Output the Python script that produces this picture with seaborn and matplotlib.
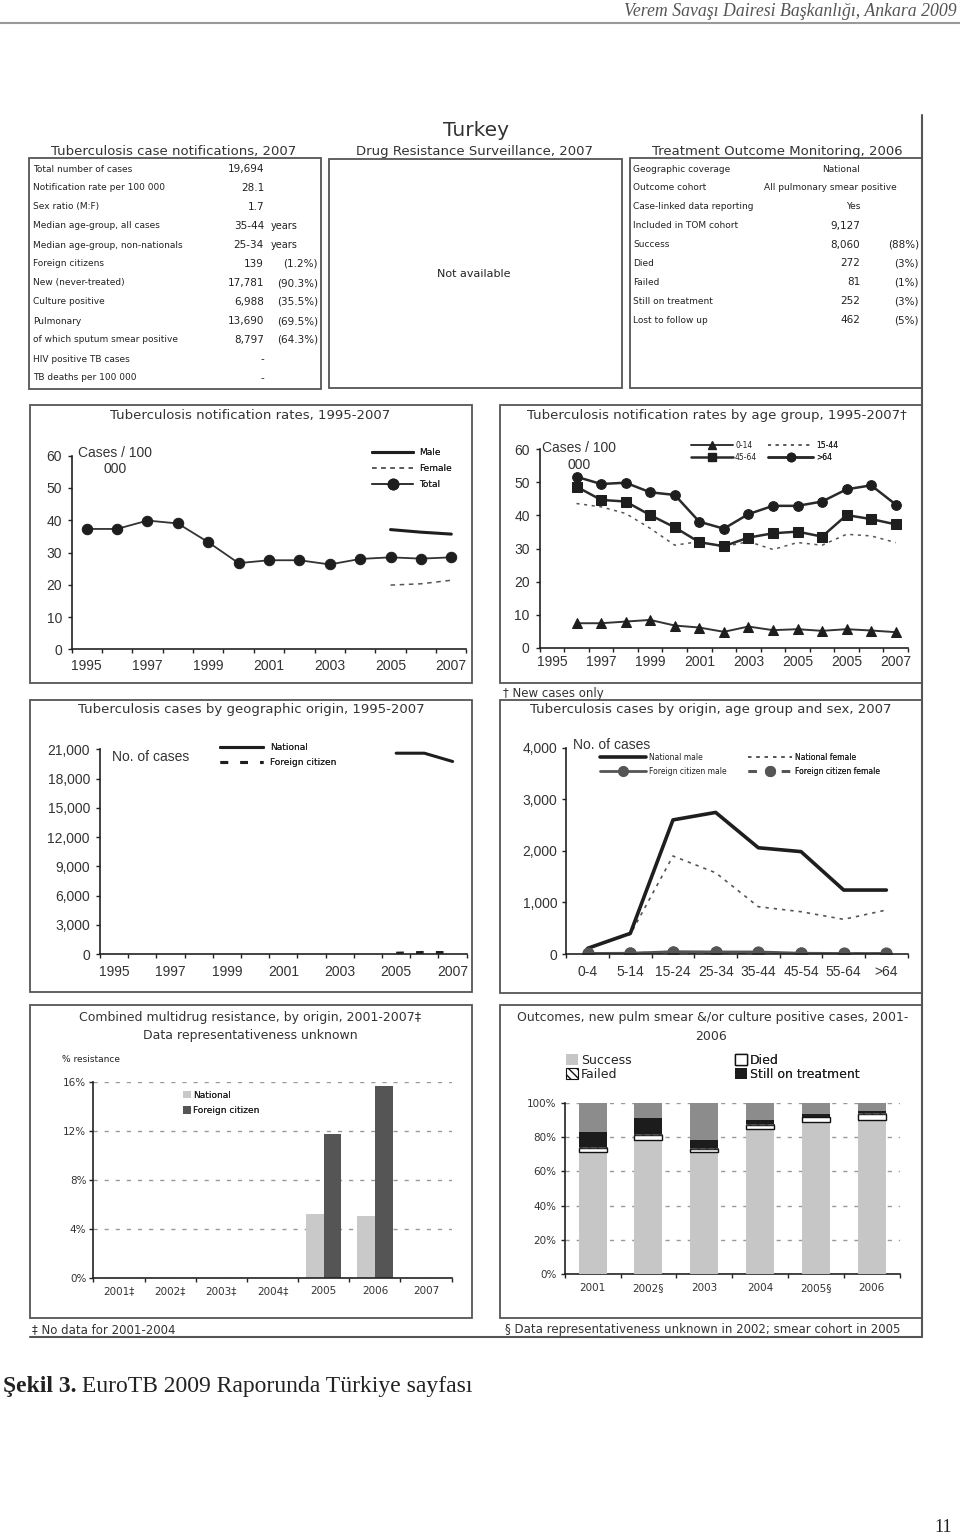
import numpy as np
import pandas as pd
import matplotlib
matplotlib.use("Agg")
import matplotlib.pyplot as plt
import seaborn as sns
from matplotlib.patches import Rectangle, Patch
from matplotlib.lines import Line2D
from matplotlib.ticker import FixedLocator, FixedFormatter, NullFormatter, NullLocator

sns.set_style("ticks")
plt.rcParams['font.family'] = ['DejaVu Sans']
plt.rcParams['hatch.linewidth'] = 1.0

# ---------------------------------------------------------------- data
notif_labels = ["Total number of cases", "Notification rate per 100 000", "Sex ratio (M:F)",
                "Median age-group, all cases", "Median age-group, non-nationals", "Foreign citizens",
                "New (never-treated)", "Culture positive", "Pulmonary", "of which sputum smear positive",
                "HIV positive TB cases", "TB deaths per 100 000"]
notif_values = ["19,694", "28.1", "1.7", "35-44", "25-34", "139", "17,781", "6,988", "13,690",
                "8,797", "-", "-"]
notif_extra = ["", "", "", "years", "years", "(1.2%)", "(90.3%)", "(35.5%)", "(69.5%)",
               "(64.3%)", "", ""]

tom_labels = ["Geographic coverage", "Outcome cohort", "Case-linked data reporting",
              "Included in TOM cohort", "Success", "Died", "Failed", "Still on treatment",
              "Lost to follow up"]
tom_values = ["National", "All pulmonary smear positive", "Yes", "9,127", "8,060", "272", "81",
              "252", "462"]
tom_pct = ["", "", "", "", "(88%)", "(3%)", "(1%)", "(3%)", "(5%)"]

rate_years = ["1995", "1996", "1997", "1998", "1999", "2000", "2001", "2002", "2003", "2004",
              "2005", "2006", "2007"]
rate_total = [37.3, 37.3, 39.9, 39.0, 33.2, 26.7, 27.6, 27.6, 26.3, 28.0, 28.5, 28.1, 28.5]
sex_years = ["2005", "2006", "2007"]
rate_male = [37.1, 36.3, 35.7]
rate_female = [19.9, 20.3, 21.4]
rate_ticklabels = ["1995", "1997", "1999", "2001", "2003", "2005", "2007"]

age_slot_labels = ["1995", "", "1997", "", "1999", "", "2001", "", "2003", "", "2005", "",
                   "2005", "", "2007"]
age_0_14 = [7.4, 7.4, 7.9, 8.4, 6.7, 6.1, 4.8, 6.4, 5.3, 5.6, 5.1, 5.6, 5.2, 4.7]
age_15_44 = [43.6, 42.6, 40.6, 36.1, 31.0, 32.1, 30.5, 32.1, 29.7, 31.8, 31.0, 34.3, 33.8, 31.8]
age_45_64 = [48.7, 44.7, 44.2, 40.1, 36.4, 31.9, 30.7, 33.3, 34.6, 35.1, 33.6, 40.1, 38.9, 37.3]
age_64p = [51.7, 49.5, 49.9, 47.0, 46.2, 38.1, 36.0, 40.4, 42.9, 42.9, 44.2, 47.9, 49.1, 43.3]

geo_years = rate_years
geo_data_years = ["2005", "2006", "2007"]
geo_national = [20600, 20600, 19750]
geo_foreign = [80, 160, 139]
geo_yticks = [0, 3000, 6000, 9000, 12000, 15000, 18000, 21000]

age_groups = ["0-4", "5-14", "15-24", "25-34", "35-44", "45-54", "55-64", ">64"]
nat_male = [110, 400, 2600, 2745, 2060, 1985, 1240, 1240]
nat_female = [110, 380, 1900, 1575, 917, 820, 672, 853]
for_male = [10, 15, 45, 40, 40, 15, 10, 10]
for_female = [8, 10, 30, 30, 20, 10, 5, 5]
agesex_yticks = [0, 1000, 2000, 3000, 4000]

mdr_years = ["2001‡", "2002‡", "2003‡", "2004‡", "2005", "2006", "2007"]
mdr_data_years = ["2005", "2006"]
mdr_national = [5.2, 5.05]
mdr_foreign = [11.8, 15.7]
mdr_yticks = [0, 4, 8, 12, 16]

out_years = ["2001", "2002§", "2003", "2004", "2005§", "2006"]
out_success = [71.5, 78.3, 71.5, 84.7, 88.9, 90.0]
out_died = [2.0, 2.8, 1.5, 2.3, 2.5, 3.4]
out_failed = [0.8, 0.5, 0.5, 0.5, 0.3, 0.5]
out_still = [8.4, 9.3, 5.0, 2.5, 1.5, 1.2]
out_yticks = [0, 20, 40, 60, 80, 100]

# ---------------------------------------------------------------- page helpers
W, H = 960, 1537
PX = 72 / 100.0
SANS = 'DejaVu Sans'
ARIAL = 'Liberation Sans'
SERIF = 'Liberation Serif'
INK = '#222222'
TXT = '#333333'
FRAME = '#555555'

fig = plt.figure(figsize=(W / 100, H / 100), dpi=100, facecolor='white')
bg = fig.add_axes([0, 0, 1, 1])
bg.set_xlim(0, W)
bg.set_ylim(H, 0)
bg.axis('off')


def T(x, y, s, **kw):
    kw.setdefault('va', 'center')
    kw.setdefault('ha', 'left')
    kw.setdefault('color', TXT)
    kw.setdefault('family', SANS)
    return bg.text(x, y, s, **kw)


def box(x0, y0, x1, y1, lw=1.3, color=FRAME):
    bg.add_patch(Rectangle((x0, y0), x1 - x0, y1 - y0, fill=False, ec=color, lw=lw))


def add_ax(x0, x1, ytop, ybot):
    ax = fig.add_axes([x0 / W, 1 - ybot / H, (x1 - x0) / W, (ybot - ytop) / H])
    ax.set_facecolor('none')
    return ax


def style_axes(ax, n, label_pos, labels, yticks, ylabels, fs, family, xpad_px, ypad_px,
               tick_len=4, yfs=None):
    ax.set_xlim(-0.5, n - 0.5)
    ax.xaxis.set_major_locator(FixedLocator(np.arange(n + 1) - 0.5))
    ax.xaxis.set_major_formatter(NullFormatter())
    ax.xaxis.set_minor_locator(FixedLocator(label_pos))
    ax.xaxis.set_minor_formatter(FixedFormatter(labels))
    ax.tick_params(axis='x', which='major', length=tick_len * PX, width=1, color=INK,
                   direction='out')
    ax.tick_params(axis='x', which='minor', length=0, pad=xpad_px * PX, labelsize=fs,
                   labelcolor=TXT, labelfontfamily=family)
    ax.yaxis.set_major_locator(FixedLocator(yticks))
    ax.yaxis.set_major_formatter(FixedFormatter(ylabels))
    ax.yaxis.set_minor_locator(NullLocator())
    ax.tick_params(axis='y', which='major', length=tick_len * PX, width=1, color=INK,
                   direction='out', pad=ypad_px * PX, labelsize=yfs or fs, labelcolor=TXT,
                   labelfontfamily=family)
    for s in ('top', 'right'):
        ax.spines[s].set_visible(False)
    for s in ('left', 'bottom'):
        ax.spines[s].set_color(INK)
        ax.spines[s].set_linewidth(1.2)
    ax.set_xlabel('')
    ax.set_ylabel('')


def legend_at(ax, handles, labels, x, yc, fs, hl_px, pitch_px, pad_px=4, hh_px=None,
              family=SANS):
    em = fs / PX
    ls = max(0.0, (pitch_px - 1.164 * em) / em)
    top = yc - 0.582 * em
    leg = ax.legend(handles, labels, loc='upper left', bbox_to_anchor=(x / W, 1 - top / H),
                    bbox_transform=fig.transFigure, frameon=False,
                    prop={'family': family, 'size': fs}, handlelength=hl_px / em,
                    handletextpad=pad_px / em, borderpad=0, borderaxespad=0,
                    labelspacing=ls, handleheight=(hh_px / em if hh_px else 0.7))
    for t in leg.get_texts():
        t.set_color(INK)
    ax.add_artist(leg)
    return leg


# ---------------------------------------------------------------- header / frame
T(957, 11, "Verem Savaşı Dairesi Başkanlığı, Ankara 2009", ha='right', family=SERIF,
  style='italic', fontsize=12.8, color='#555555')
bg.plot([0, 960], [23, 23], color='#999999', lw=1.5)
bg.plot([922, 922], [115, 1337], color=FRAME, lw=1.5)
bg.plot([30, 922], [1337, 1337], color=FRAME, lw=1.5)

T(476, 130, "Turkey", ha='center', fontsize=14.5, color='#333333')

# ---------------------------------------------------------------- tables
T(174, 152, "Tuberculosis case notifications, 2007", ha='center', fontsize=9.5)
box(29, 158, 321, 389)
for i, (lab, val, ext) in enumerate(zip(notif_labels, notif_values, notif_extra)):
    y = 169 + 19 * i
    T(33, y, lab, fontsize=6.5, color=INK)
    T(264, y, val, ha='right', fontsize=7.5, color=INK)
    if ext == "years":
        T(271, y, ext, fontsize=7, color=INK)
    elif ext:
        T(318, y, ext, ha='right', fontsize=7.5, color=INK)

T(474, 152, "Drug Resistance Surveillance, 2007", ha='center', fontsize=9.5)
box(329, 159, 622, 388)
T(474, 274, "Not available", ha='center', fontsize=8, color=INK)

T(777, 152, "Treatment Outcome Monitoring, 2006", ha='center', fontsize=9.5)
box(630, 158, 922, 388)
for i, (lab, val, pct) in enumerate(zip(tom_labels, tom_values, tom_pct)):
    y = 169 + 18.9 * i
    T(633, y, lab, fontsize=6.5, color=INK)
    if len(val) > 12:
        T(897, y, val, ha='right', fontsize=6.5, color=INK)
    else:
        T(860, y, val, ha='right', fontsize=7.5 if val[0].isdigit() else 6.5, color=INK)
    if pct:
        T(919, y, pct, ha='right', fontsize=7.5, color=INK)

# ---------------------------------------------------------------- panel A
box(30, 405, 472, 683)
T(250, 416, "Tuberculosis notification rates, 1995-2007", ha='center', fontsize=9.5)
axA = add_ax(71.5, 466.5, 455.7, 649.3)
dfA = pd.DataFrame({'slot': np.arange(len(rate_years)), 'rate': rate_total})
sns.lineplot(data=dfA, x='slot', y='rate', ax=axA, color='#333333', lw=1.3, marker='o',
             markersize=7.5, markerfacecolor='#1e1e1e', markeredgecolor='#1e1e1e')
dfAs = pd.DataFrame({'slot': [rate_years.index(y) for y in sex_years],
                     'male': rate_male, 'female': rate_female})
sns.lineplot(data=dfAs, x='slot', y='male', ax=axA, color='#1e1e1e', lw=2.2)
sns.lineplot(data=dfAs, x='slot', y='female', ax=axA, color='#555555', lw=1.1,
             linestyle=(0, (3, 3)))
axA.set_ylim(0, 60)
style_axes(axA, len(rate_years), [rate_years.index(y) for y in rate_ticklabels],
           rate_ticklabels, [0, 10, 20, 30, 40, 50, 60], ['0', '10', '20', '30', '40', '50', '60'],
           10, ARIAL, 10, 5.5)
T(115, 453, "Cases / 100", ha='center', fontsize=10, family=ARIAL)
T(115, 469, "000", ha='center', fontsize=10, family=ARIAL)
legend_at(axA,
          [Line2D([0], [0], color='#1e1e1e', lw=2.2),
           Line2D([0], [0], color='#555555', lw=1.1, ls=(0, (3, 3))),
           Line2D([0], [0], color='#333333', lw=1.3, marker='o', markersize=7.5,
                  markerfacecolor='#1e1e1e', markeredgecolor='#1e1e1e')],
          ["Male", "Female", "Total"], 372, 453, 6.5, 41, 17.5, pad_px=6)

# ---------------------------------------------------------------- panel B
box(500, 405, 922, 683)
T(717, 416, "Tuberculosis notification rates by age group, 1995-2007†", ha='center',
  fontsize=9.5)
T(503, 693, "† New cases only", fontsize=8.5)
axB = add_ax(539.7, 908, 449.3, 647.7)
slotsB = np.arange(1, len(age_0_14) + 1)
dfB = pd.DataFrame({'slot': slotsB, 'a': age_0_14, 'b': age_15_44, 'c': age_45_64, 'd': age_64p})
sns.lineplot(data=dfB, x='slot', y='b', ax=axB, color='#555555', lw=1.1, linestyle=(0, (2, 3)))
sns.lineplot(data=dfB, x='slot', y='a', ax=axB, color='#333333', lw=1.4, marker='^',
             markersize=7, markerfacecolor='#1e1e1e', markeredgecolor='#1e1e1e')
sns.lineplot(data=dfB, x='slot', y='c', ax=axB, color='#2a2a2a', lw=1.8, marker='s',
             markersize=6.5, markerfacecolor='#1e1e1e', markeredgecolor='#1e1e1e')
sns.lineplot(data=dfB, x='slot', y='d', ax=axB, color='#2a2a2a', lw=1.8, marker='o',
             markersize=7, markerfacecolor='#1e1e1e', markeredgecolor='#1e1e1e')
axB.set_ylim(0, 60)
labposB = [i for i, l in enumerate(age_slot_labels) if l]
style_axes(axB, len(age_slot_labels), labposB, [age_slot_labels[i] for i in labposB],
           [0, 10, 20, 30, 40, 50, 60], ['0', '10', '20', '30', '40', '50', '60'],
           10, ARIAL, 7.5, 6)
T(579, 448, "Cases / 100", ha='center', fontsize=10, family=ARIAL)
T(579, 465, "000", ha='center', fontsize=10, family=ARIAL)
legend_at(axB,
          [Line2D([0], [0], color='#333333', lw=1.4, marker='^', markersize=6,
                  markerfacecolor='#1e1e1e', markeredgecolor='#1e1e1e'),
           Line2D([0], [0], color='#2a2a2a', lw=1.8, marker='s', markersize=5.5,
                  markerfacecolor='#1e1e1e', markeredgecolor='#1e1e1e')],
          ["0-14", "45-64"], 691, 445, 5.5, 42, 12, pad_px=2)
legend_at(axB,
          [Line2D([0], [0], color='#555555', lw=1.1, ls=(0, (2, 3))),
           Line2D([0], [0], color='#2a2a2a', lw=1.8, marker='o', markersize=6,
                  markerfacecolor='#1e1e1e', markeredgecolor='#1e1e1e')],
          ["15-44", ">64"], 768, 445, 5.5, 45, 12, pad_px=3)

# ---------------------------------------------------------------- panel C
box(30, 700, 472, 992)
T(251, 710, "Tuberculosis cases by geographic origin, 1995-2007", ha='center', fontsize=9.5)
axC = add_ax(100, 466.7, 749.3, 954)
dfC = pd.DataFrame({'slot': [geo_years.index(y) for y in geo_data_years],
                    'nat': geo_national, 'for': geo_foreign})
sns.lineplot(data=dfC, x='slot', y='nat', ax=axC, color='#1e1e1e', lw=2.2)
sns.lineplot(data=dfC, x='slot', y='for', ax=axC, color='#1e1e1e', lw=2.2,
             linestyle=(0, (2.5, 4)))
axC.set_ylim(0, 21000)
style_axes(axC, len(geo_years), [geo_years.index(y) for y in rate_ticklabels], rate_ticklabels,
           geo_yticks, [f"{v:,}" for v in geo_yticks], 10, ARIAL, 11.5, 6)
T(112, 757, "No. of cases", fontsize=10, family=ARIAL)
legend_at(axC,
          [Line2D([0], [0], color='#1e1e1e', lw=2.2),
           Line2D([0], [0], color='#1e1e1e', lw=2.2, ls=(0, (2.5, 4)))],
          ["National", "Foreign citizen"], 220, 748, 6.5, 43, 17, pad_px=7)

# ---------------------------------------------------------------- panel D
box(500, 700, 922, 993)
T(711, 710, "Tuberculosis cases by origin, age group and sex, 2007", ha='center', fontsize=9.5)
axD = add_ax(566.3, 907.7, 747.7, 954)
dfD = pd.DataFrame({'slot': np.arange(len(age_groups)), 'nm': nat_male, 'nf': nat_female,
                    'fm': for_male, 'ff': for_female})
sns.lineplot(data=dfD, x='slot', y='nf', ax=axD, color='#555555', lw=1.2, linestyle=(0, (2, 3)))
sns.lineplot(data=dfD, x='slot', y='nm', ax=axD, color='#1e1e1e', lw=2.6)
sns.lineplot(data=dfD, x='slot', y='ff', ax=axD, color='#555555', lw=2, linestyle=(0, (3, 3)),
             marker='o', markersize=8, markerfacecolor='#555555', markeredgecolor='#555555')
sns.lineplot(data=dfD, x='slot', y='fm', ax=axD, color='#555555', lw=2,
             marker='o', markersize=8, markerfacecolor='#555555', markeredgecolor='#555555')
axD.set_ylim(0, 4000)
style_axes(axD, len(age_groups), np.arange(len(age_groups)), age_groups, agesex_yticks,
           [f"{v:,}" for v in agesex_yticks], 10, ARIAL, 11.5, 5)
T(573, 745, "No. of cases", fontsize=10, family=ARIAL)
legend_at(axD,
          [Line2D([0], [0], color='#1e1e1e', lw=2.6),
           Line2D([0], [0], color='#555555', lw=2, marker='o', markersize=7,
                  markerfacecolor='#555555', markeredgecolor='#555555')],
          ["National male", "Foreign citizen male"], 600, 757, 5.5, 46, 14.4, pad_px=3)
legend_at(axD,
          [Line2D([0], [0], color='#555555', lw=1.2, ls=(0, (2, 3))),
           Line2D([0], [0], color='#555555', lw=2, ls=(0, (3, 3)), marker='o', markersize=7,
                  markerfacecolor='#555555', markeredgecolor='#555555')],
          ["National female", "Foreign citizen female"], 748, 757, 5.5, 44, 14.4, pad_px=3)

# ---------------------------------------------------------------- panel E
box(30, 1005, 472, 1318)
T(250, 1018, "Combined multidrug resistance, by origin, 2001-2007‡", ha='center', fontsize=9)
T(250, 1036, "Data representativeness unknown", ha='center', fontsize=9)
T(32, 1330, "‡ No data for 2001-2004", fontsize=8.5)
axE = add_ax(93.3, 451.7, 1082.3, 1277.7)
dfE = pd.DataFrame({'year': mdr_data_years * 2,
                    'origin': ['National'] * len(mdr_data_years) + ['Foreign citizen'] * len(mdr_data_years),
                    'pct': mdr_national + mdr_foreign})
sns.barplot(data=dfE, x='year', y='pct', hue='origin', order=mdr_years,
            hue_order=['National', 'Foreign citizen'],
            palette={'National': '#c9c9c9', 'Foreign citizen': '#555555'},
            saturation=1, width=0.69, gap=0, legend=False, ax=axE, edgecolor='none',
            errorbar=None)
axE.set_ylim(0, 16)
style_axes(axE, len(mdr_years), np.arange(len(mdr_years)), mdr_years, mdr_yticks,
           [f"{v}%" for v in mdr_yticks], 7.5, SANS, 8, 3)
axE.set_axisbelow(True)
axE.yaxis.grid(True, color='#999999', lw=1, ls=(0, (3, 5)))
T(62, 1060, "% resistance", fontsize=6.5, color=INK)
legend_at(axE,
          [Patch(fc='#c9c9c9', ec='none'), Patch(fc='#555555', ec='none')],
          ["National", "Foreign citizen"], 183, 1096, 6.5, 8, 17, pad_px=2, hh_px=8)

# ---------------------------------------------------------------- panel F
box(500, 1005, 922, 1318)
T(713, 1018, "Outcomes, new pulm smear &/or culture positive cases, 2001-", ha='center',
  fontsize=9)
T(711, 1036, "2006", ha='center', fontsize=9)
T(505, 1330, "§ Data representativeness unknown in 2002; smear cohort in 2005", fontsize=8.5)
axF = add_ax(564.7, 899.7, 1102.7, 1274.3)
dfF = pd.DataFrame({'year': out_years, 'Success': out_success, 'Died': out_died,
                    'Failed': out_failed, 'Still on treatment': out_still})
dfF['Other'] = 100 - dfF[['Success', 'Died', 'Failed', 'Still on treatment']].sum(axis=1)
xs = np.arange(len(dfF))
bottom = np.zeros(len(dfF))
styles = {'Success': dict(color='#c6c6c6', edgecolor='none'),
          'Died': dict(color='white', edgecolor='#111111', linewidth=1),
          'Failed': dict(color='white', edgecolor='#111111', hatch='\\\\\\\\', linewidth=0.5),
          'Still on treatment': dict(color='#1c1c1c', edgecolor='none'),
          'Other': dict(color='#8c8c8c', edgecolor='none')}
for col in ['Success', 'Died', 'Failed', 'Still on treatment', 'Other']:
    axF.bar(xs, dfF[col].values, bottom=bottom, width=0.5, zorder=3, **styles[col])
    bottom = bottom + dfF[col].values
axF.set_ylim(0, 100)
style_axes(axF, len(out_years), xs, out_years, out_yticks, [f"{v}%" for v in out_yticks],
           7.5, SANS, 9, 4)
axF.set_axisbelow(True)
axF.yaxis.grid(True, color='#999999', lw=1, ls=(0, (3, 5)))
legend_at(axF,
          [Patch(fc='#c6c6c6', ec='none'),
           Patch(fc='white', ec='#111111', hatch='\\\\\\\\', lw=0.8)],
          ["Success", "Failed"], 566, 1061, 9, 12, 16, pad_px=3, hh_px=12)
legend_at(axF,
          [Patch(fc='white', ec='#111111', lw=1),
           Patch(fc='#1c1c1c', ec='none')],
          ["Died", "Still on treatment"], 735, 1061, 9, 12, 16, pad_px=3, hh_px=12)

# ---------------------------------------------------------------- caption
t1 = bg.text(3, 1392, "Şekil 3.", family=SERIF, weight='bold', fontsize=17, va='baseline',
             ha='left', color=INK)
bg.annotate(" EuroTB 2009 Raporunda Türkiye sayfası", xy=(1, 0), xycoords=t1, va='bottom',
            ha='left', family=SERIF, fontsize=17, color=INK)
T(943, 1527, "11", ha='center', family=SERIF, fontsize=13, color=INK)

fig.savefig("out.png", dpi=100, facecolor='white')
